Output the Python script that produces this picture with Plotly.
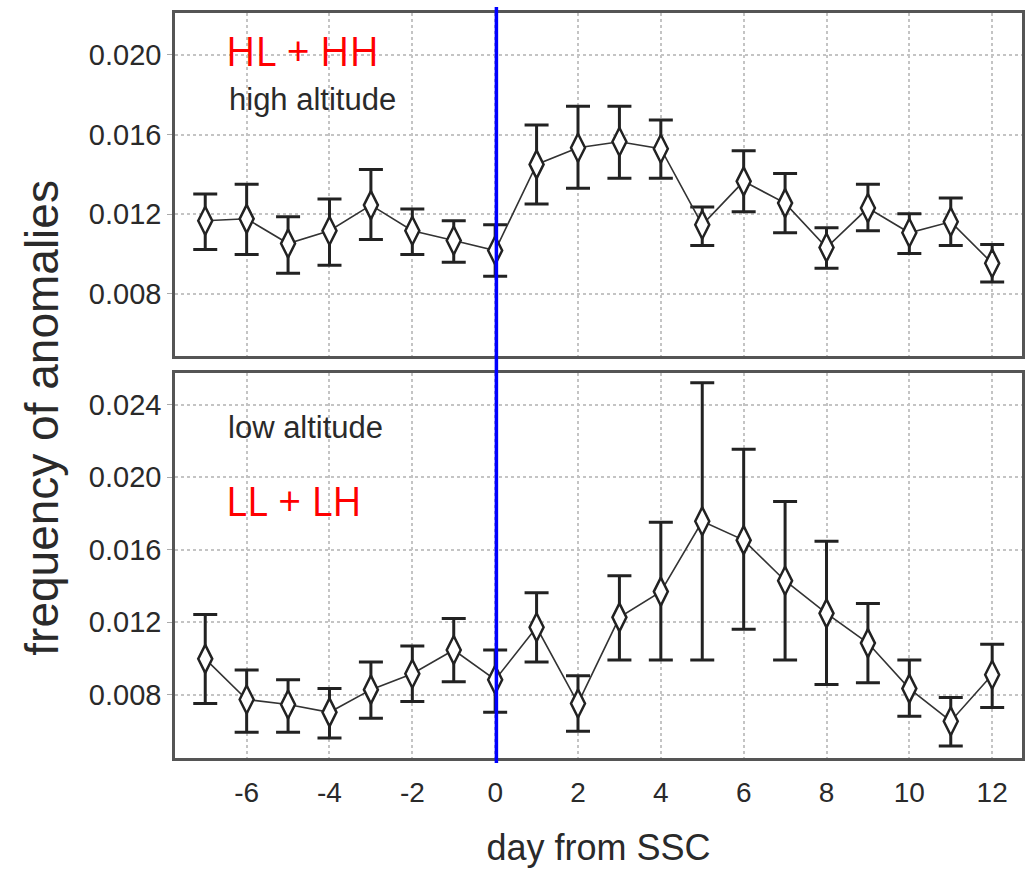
import plotly.graph_objects as go

days = [-7, -6, -5, -4, -3, -2, -1, 0, 1, 2, 3, 4, 5, 6, 7, 8, 9, 10, 11, 12]

high_mean = [0.01167, 0.01177, 0.01053, 0.01117, 0.01246, 0.01117, 0.01068, 0.01018, 0.01450, 0.01534,
             0.01564, 0.01529, 0.01147, 0.01365, 0.01256, 0.01033, 0.01231, 0.01107, 0.01162, 0.00954]
high_upper = [0.01301, 0.01350, 0.01187, 0.01276, 0.01425, 0.01226, 0.01167, 0.01147, 0.01648, 0.01742,
              0.01742, 0.01673, 0.01236, 0.01519, 0.01405, 0.01132, 0.01350, 0.01202, 0.01281, 0.01048]
high_lower = [0.01023, 0.00998, 0.00904, 0.00944, 0.01073, 0.00998, 0.00959, 0.00889, 0.01251, 0.01331,
              0.01380, 0.01380, 0.01043, 0.01212, 0.01107, 0.00929, 0.01117, 0.01003, 0.01043, 0.00860]

low_mean = [0.00997, 0.00773, 0.00745, 0.00702, 0.00827, 0.00915, 0.01046, 0.00882, 0.01171, 0.00751,
            0.01226, 0.01368, 0.01756, 0.01652, 0.01428, 0.01248, 0.01084, 0.00833, 0.00653, 0.00909]
low_upper = [0.01242, 0.00936, 0.00882, 0.00833, 0.00980, 0.01068, 0.01220, 0.01046, 0.01362, 0.00904,
             0.01455, 0.01750, 0.02520, 0.02154, 0.01865, 0.01646, 0.01302, 0.00991, 0.00784, 0.01078]
low_lower = [0.00751, 0.00592, 0.00592, 0.00560, 0.00669, 0.00762, 0.00871, 0.00702, 0.00980, 0.00598,
             0.00991, 0.00991, 0.00991, 0.01160, 0.00991, 0.00855, 0.00865, 0.00680, 0.00516, 0.00729]

x_ticks = [-6, -4, -2, 0, 2, 4, 6, 8, 10, 12]
x_ticktext = ["-6", "-4", "-2", "0", "2", "4", "6", "8", "10", "12"]
high_yticks = [0.008, 0.012, 0.016, 0.020]
low_yticks = [0.008, 0.012, 0.016, 0.020, 0.024]


def series(mean, upper, lower, xa, ya):
    plus = [u - m for u, m in zip(upper, mean)]
    minus = [m - l for m, l in zip(mean, lower)]
    return go.Scatter(
        x=days, y=mean, xaxis=xa, yaxis=ya, mode="lines+markers",
        line=dict(color="#333333", width=1.6),
        marker=dict(symbol="diamond-tall", size=20, color="white",
                    line=dict(color="#222222", width=2.5)),
        error_y=dict(type="data", symmetric=False, array=plus, arrayminus=minus,
                     color="#222222", thickness=3, width=12),
        showlegend=False,
    )


fig = go.Figure()
fig.add_trace(series(high_mean, high_upper, high_lower, "x", "y"))
fig.add_trace(series(low_mean, low_upper, low_lower, "x2", "y2"))

sans = "Liberation Sans, Arial, sans-serif"
tick_font = dict(family=sans, size=29, color="#2a2a2a")
frame = dict(showline=True, mirror=True, linecolor="#555555", linewidth=2.5,
             showgrid=True, gridcolor="#c4c4c4", griddash="dot", gridwidth=1.5,
             zeroline=False)

fig.update_layout(
    width=1035, height=872,
    margin=dict(l=175, r=10, t=10, b=110),
    paper_bgcolor="white", plot_bgcolor="white",
    xaxis=dict(domain=[0, 1], anchor="y", range=[-7.73, 12.72], tickvals=x_ticks,
               showticklabels=False, ticks="", **frame),
    yaxis=dict(domain=[0.540, 1], anchor="x", range=[0.0049, 0.0221], tickvals=high_yticks,
               tickformat=".3f", tickfont=tick_font, ticks="outside", ticklen=5,
               tickcolor="#aaaaaa", **frame),
    xaxis2=dict(domain=[0, 1], anchor="y2", range=[-7.73, 12.72], tickvals=x_ticks,
                ticktext=x_ticktext,
                tickfont=dict(family=sans, size=28, color="#2a2a2a"),
                ticks="outside", ticklen=8, tickcolor="white",
                title=dict(text="day from SSC", standoff=28,
                           font=dict(family=sans, size=36, color="#2a2a2a")),
                **frame),
    yaxis2=dict(domain=[0, 0.517], anchor="x2", range=[0.0045, 0.02575], tickvals=low_yticks,
                tickformat=".3f", tickfont=tick_font, ticks="outside", ticklen=5,
                tickcolor="#aaaaaa", **frame),
    shapes=[dict(type="line", xref="x2", yref="paper", x0=0.03, x1=0.03, y0=-0.0066, y1=1.008,
                 line=dict(color="#0000ff", width=3.5), layer="above")],
    annotations=[
        dict(text="frequency of anomalies", xref="paper", yref="paper", x=-0.158, y=0.457,
             textangle=-90, showarrow=False, xanchor="center", yanchor="middle",
             font=dict(family=sans, size=46, color="#2a2a2a")),
        dict(text="HL + HH", xref="paper", yref="paper", x=0.0575, y=0.950, showarrow=False,
             xanchor="left", yanchor="middle",
             font=dict(family="Open Sans, sans-serif", size=40, color="#ff0000")),
        dict(text="high altitude", xref="paper", yref="paper", x=0.0610, y=0.884, showarrow=False,
             xanchor="left", yanchor="middle",
             font=dict(family=sans, size=31, color="#2a2a2a")),
        dict(text="low altitude", xref="paper", yref="paper", x=0.0600, y=0.444, showarrow=False,
             xanchor="left", yanchor="middle",
             font=dict(family=sans, size=31, color="#2a2a2a")),
        dict(text="LL + LH", xref="paper", yref="paper", x=0.0575, y=0.346, showarrow=False,
             xanchor="left", yanchor="middle",
             font=dict(family="Open Sans, sans-serif", size=40, color="#ff0000")),
    ],
)

fig.write_html("out.html")
